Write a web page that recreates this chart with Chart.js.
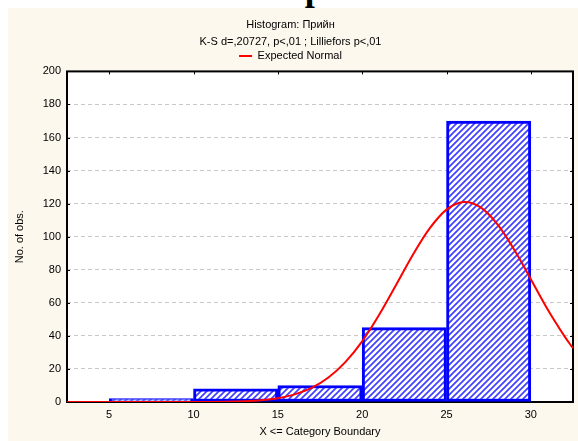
<!DOCTYPE html>
<html>
<head>
<meta charset="utf-8">
<script src="https://cdn.jsdelivr.net/npm/chart.js@4"></script>
<style>
    html, body { margin: 0; padding: 0; background: #fff; }
    #heading {
        position: absolute; left: 0; top: 0; width: 578px; height: 8px; overflow: hidden;
    }
    #heading span {
        position: absolute; left: 219px; top: -30px;
        font: bold 36px 'Liberation Serif', serif; line-height: 36px; color: #000; white-space: nowrap;
    }
    #wrap { position: absolute; left: 8px; top: 8px; width: 570px; height: 433px; }
</style>
</head>
<body>
<div id="heading"><span>Номер</span></div>
<div id="wrap"><canvas id="histChart" width="570" height="433"></canvas></div>
<script>
// bins (upper boundary) and counts
const binUpper = [10, 15, 20, 25, 30];
const binWidth = 5;
const counts = [2, 8, 10, 45, 170];

// expected normal curve
const normX = [2.5, 5, 8, 10, 12, 13, 14, 15, 16, 17, 18, 19, 20, 21, 22, 23, 24, 25, 26, 27, 28, 29, 30, 31, 32, 32.5];
const normY = [0, 0, 0, 0, 0.2, 0.5, 1.1, 2.3, 4.6, 8.5, 14.8, 24.1, 36.7, 52.6, 70.6, 88.9, 105, 116.4, 121, 117.9, 107.8, 92.4, 74.3, 56, 39.7, 32.5];

const xTicks = [5, 10, 15, 20, 25, 30];
const yTicks = [0, 20, 40, 60, 80, 100, 120, 140, 160, 180, 200];

const makeHatch = function () {
    const c = document.createElement('canvas');
    c.width = 6;
    c.height = 6;
    const g = c.getContext('2d');
    g.fillStyle = '#ffffff';
    g.fillRect(0, 0, 6, 6);
    g.strokeStyle = '#4040ff';
    g.lineWidth = 1.7;
    g.beginPath();
    g.moveTo(-1, 7); g.lineTo(7, -1);
    g.moveTo(-4, 4); g.lineTo(4, -4);
    g.moveTo(2, 10); g.lineTo(10, 2);
    g.stroke();
    return g.createPattern(c, 'repeat');
};

const ctx = document.getElementById('histChart').getContext('2d');

const framePlugin = {
    id: 'frame',
    beforeDraw: function (chart) {
        const c = chart.ctx;
        const a = chart.chartArea;
        c.save();
        c.fillStyle = '#fdf8ee';
        c.fillRect(0, 0, chart.width, chart.height);
        c.fillStyle = '#ffffff';
        c.fillRect(a.left, a.top, a.right - a.left, a.bottom - a.top);
        c.restore();
    },
    beforeDatasetsDraw: function (chart) {
        const c = chart.ctx;
        const a = chart.chartArea;
        c.save();
        c.strokeStyle = '#000';
        c.lineWidth = 2;
        c.strokeRect(a.left, a.top, a.right - a.left, a.bottom - a.top);
        // small inward ticks
        c.lineWidth = 1;
        c.beginPath();
        const ys = chart.scales.y;
        yTicks.forEach(function (v) {
            const py = Math.round(ys.getPixelForValue(v)) + 0.5;
            c.moveTo(a.left, py); c.lineTo(a.left + 3, py);
            c.moveTo(a.right, py); c.lineTo(a.right - 3, py);
        });
        const xs = chart.scales.x;
        xTicks.forEach(function (v) {
            const px = Math.round(xs.getPixelForValue(v)) + 0.5;
            c.moveTo(px, a.top); c.lineTo(px, a.top + 3);
        });
        c.stroke();
        c.restore();
    }
};

const config = {
    data: {
        datasets: [
            {
                type: 'line',
                label: 'Expected Normal',
                data: normX.map(function (x, i) { return {x: x, y: normY[i]}; }),
                borderColor: '#ff0000',
                backgroundColor: '#ff0000',
                borderWidth: 2,
                pointRadius: 0,
                tension: 0.35,
                order: 0
            },
            {
                type: 'bar',
                label: 'Histogram',
                data: binUpper.map(function (u, i) { return {x: u - binWidth / 2, y: counts[i]}; }),
                backgroundColor: makeHatch(),
                borderColor: '#0000ff',
                borderWidth: 3,
                borderSkipped: false,
                barPercentage: 1,
                categoryPercentage: 1,
                order: 1
            }
        ]
    },
    options: {
        responsive: false,
        devicePixelRatio: 1,
        animation: false,
        layout: {padding: {left: 0, right: 5, top: 0, bottom: 0}},
        plugins: {
            tooltip: {enabled: false},
            title: {
                display: true,
                text: 'Histogram: Прийн',
                color: '#000',
                font: {family: 'Liberation Sans', size: 11, weight: 'normal'},
                padding: {top: 10, bottom: 4}
            },
            subtitle: {
                display: true,
                text: 'K-S d=,20727, p<,01 ; Lilliefors p<,01',
                color: '#000',
                font: {family: 'Liberation Sans', size: 11},
                padding: {top: 0, bottom: 0}
            },
            legend: {
                display: true,
                position: 'top',
                labels: {
                    color: '#000',
                    font: {family: 'Liberation Sans', size: 11},
                    boxWidth: 13,
                    boxHeight: 2,
                    padding: 2,
                    generateLabels: function () {
                        return [{text: 'Expected Normal', fillStyle: '#ff0000', strokeStyle: '#ff0000', lineWidth: 0, datasetIndex: 0}];
                    }
                }
            }
        },
        scales: {
            x: {
                type: 'linear',
                offset: false,
                min: 2.5,
                max: 32.5,
                afterBuildTicks: function (scale) {
                    scale.ticks = xTicks.map(function (v) { return {value: v}; });
                },
                afterFit: function (scale) { scale.height = 39; },
                grid: {display: false, drawTicks: false, offset: false},
                border: {display: false},
                ticks: {color: '#000', padding: 6, font: {family: 'Liberation Sans', size: 11}},
                title: {
                    display: true,
                    text: 'X <= Category Boundary',
                    color: '#000',
                    font: {family: 'Liberation Sans', size: 11},
                    padding: {top: 0, bottom: 2}
                }
            },
            y: {
                min: 0,
                max: 200,
                afterBuildTicks: function (scale) {
                    scale.ticks = yTicks.map(function (v) { return {value: v}; });
                },
                afterFit: function (scale) { scale.width = 59; },
                grid: {
                    drawTicks: false,
                    color: function (c) {
                        return (c.tick && (c.tick.value === 0 || c.tick.value === 200)) ? 'rgba(0,0,0,0)' : '#c8c8c8';
                    },
                    lineWidth: 1
                },
                border: {display: false, dash: [4, 3]},
                ticks: {color: '#000', padding: 6, font: {family: 'Liberation Sans', size: 11}},
                title: {
                    display: true,
                    text: 'No. of obs.',
                    color: '#000',
                    font: {family: 'Liberation Sans', size: 11},
                    padding: {top: 5, bottom: 0}
                }
            }
        }
    },
    plugins: [framePlugin]
};

const myChart = new Chart(ctx, config);
</script>
</body>
</html>
